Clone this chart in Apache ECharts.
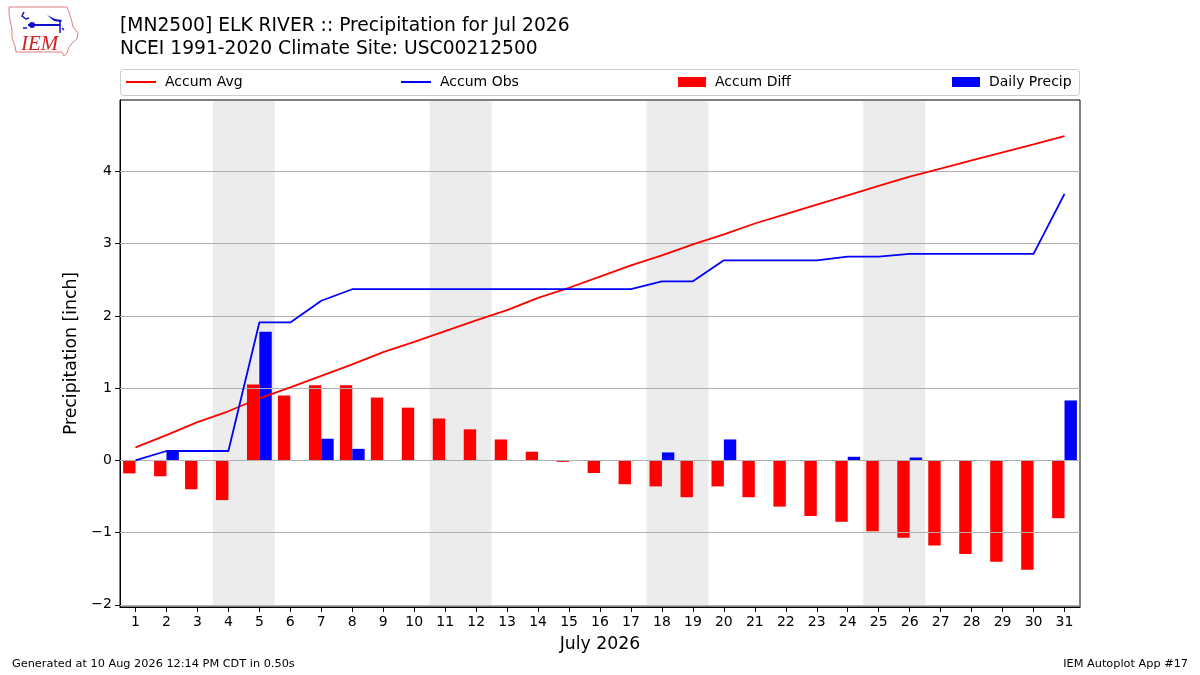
<!DOCTYPE html>
<html>
<head>
<meta charset="utf-8">
<script src="https://cdn.jsdelivr.net/npm/echarts@6/dist/echarts.min.js"></script>
<style>html,body{margin:0;padding:0;background:#fff}#c{width:1200px;height:675px}</style>
</head>
<body>
<div id="c"></div>
<script>
const days = ['1','2','3','4','5','6','7','8','9','10','11','12','13','14','15','16','17','18','19','20','21','22','23','24','25','26','27','28','29','30','31'];
const accumAvg = [0.18,0.35,0.53,0.68,0.86,1.01,1.17,1.33,1.50,1.64,1.79,1.94,2.08,2.25,2.39,2.545,2.70,2.84,2.99,3.13,3.28,3.41,3.54,3.67,3.80,3.93,4.04,4.155,4.265,4.375,4.49];
const accumObs = [0,0.13,0.13,0.13,1.91,1.91,2.21,2.37,2.37,2.37,2.37,2.37,2.37,2.37,2.37,2.37,2.37,2.48,2.48,2.77,2.77,2.77,2.77,2.82,2.82,2.86,2.86,2.86,2.86,2.86,3.69];
const accumDiff = [-0.18,-0.22,-0.40,-0.55,1.05,0.90,1.04,1.04,0.87,0.73,0.58,0.43,0.29,0.12,-0.02,-0.175,-0.33,-0.36,-0.51,-0.36,-0.51,-0.64,-0.77,-0.85,-0.98,-1.07,-1.18,-1.295,-1.405,-1.515,-0.80];
const dailyPrecip = [0,0.13,0,0,1.78,0,0.30,0.16,0,0,0,0,0,0,0,0,0,0.11,0,0.29,0,0,0,0.05,0,0.04,0,0,0,0,0.83];
const yTicks = [-2,-1,0,1,2,3,4];
const weekends = [[4,5],[11,12],[18,19],[25,26]];

const FONT = 'DejaVu Sans';
const chart = echarts.init(document.getElementById('c'), null, {renderer:'canvas'});
const minus = v => String(v).replace('-', '\u2212');
const legText = {fontFamily:FONT, fontSize:14, color:'#000', padding:[0,0,0,4]};

const option = {
  backgroundColor: '#ffffff',
  animation: false,
  textStyle: {fontFamily: FONT, color: '#000'},
  title: {
    text: '[MN2500] ELK RIVER :: Precipitation for Jul 2026\nNCEI 1991-2020 Climate Site: USC00212500',
    left: 115, top: 12, padding: [3,5,3,5],
    textStyle: {fontFamily: FONT, fontSize: 18.7, fontWeight: 'normal', color: '#000', lineHeight: 23}
  },
  legend: [
    {data:[{name:'Accum Avg', icon:'rect'}], left:126, top:75, padding:0, itemWidth:30, itemHeight:2, textStyle:legText, selectedMode:false},
    {data:[{name:'Accum Obs', icon:'rect'}], left:401, top:75, padding:0, itemWidth:30, itemHeight:2, textStyle:legText, selectedMode:false},
    {data:[{name:'Accum Diff', icon:'rect'}], left:678, top:75, padding:0, itemWidth:28, itemHeight:10, textStyle:legText, selectedMode:false},
    {data:[{name:'Daily Precip', icon:'rect'}], left:952, top:75, padding:0, itemWidth:28, itemHeight:10, textStyle:legText, selectedMode:false}
  ],
  grid: {left:120, right:120, top:100, bottom:68, show:true, borderColor:'#000', borderWidth:1, backgroundColor:'transparent'},
  xAxis: [
    {
      type:'category', data: days, boundaryGap:true,
      name:'July 2026', nameLocation:'middle', nameGap:29,
      nameTextStyle:{fontFamily:FONT, fontSize:17.3, color:'#000'},
      axisLine:{show:true, onZero:false, lineStyle:{color:'#000', width:1}},
      axisTick:{show:true, alignWithLabel:true, interval:0, length:5, lineStyle:{color:'#000'}},
      axisLabel:{fontFamily:FONT, fontSize:14, color:'#000', margin:8, interval:0},
      splitLine:{show:false}
    },
    {type:'value', min:0.5, max:31.5, show:false, axisLine:{onZero:false}}
  ],
  yAxis: {
    type:'value', min:-2.03, max:4.99,
    name:'Precipitation [inch]', nameLocation:'middle', nameGap:37,
    nameTextStyle:{fontFamily:FONT, fontSize:17.3, color:'#000'},
    axisLine:{show:true, onZero:false, lineStyle:{color:'#000'}},
    axisTick:{show:true, length:5, lineStyle:{color:'#000'}, customValues: yTicks},
    axisLabel:{fontFamily:FONT, fontSize:14, color:'#000', margin:8, customValues: yTicks, formatter: v => minus(v)},
    splitLine:{show:false}
  },
  series: [
    {
      name:'bg', type:'line', xAxisIndex:1, yAxisIndex:0, data:[[1,0]], symbol:'none', lineStyle:{opacity:0}, silent:true, z:1,
      markArea:{silent:true, itemStyle:{color:'rgba(128,128,128,0.15)'},
        data: weekends.map(w => [{xAxis:w[0]-0.5},{xAxis:w[1]+0.5}])},
      markLine:{silent:true, symbol:['none','none'], label:{show:false},
        lineStyle:{color:'#b0b0b0', width:1, type:'solid'},
        data: yTicks.map(v => ({yAxis:v}))}
    },
    {name:'Accum Diff', type:'bar', data:accumDiff, barWidth:'40%', barGap:'0%', itemStyle:{color:'#ff0000'}, z:3},
    {name:'Daily Precip', type:'bar', data:dailyPrecip, barWidth:'40%', barGap:'0%', itemStyle:{color:'#0000ff'}, z:3},
    {name:'Accum Avg', type:'line', data:accumAvg, symbol:'none', lineStyle:{color:'#ff0000', width:1.8}, itemStyle:{color:'#ff0000'}, z:5},
    {name:'Accum Obs', type:'line', data:accumObs, symbol:'none', lineStyle:{color:'#0000ff', width:1.8}, itemStyle:{color:'#0000ff'}, z:5}
  ],
  graphic: [
    {type:'rect', z:-1, shape:{x:120.5, y:69.5, width:959, height:26, r:3}, style:{fill:'#fff', stroke:'#cccccc', lineWidth:1}},
    {type:'text', left:12, top:659, style:{text:'Generated at 10 Aug 2026 12:14 PM CDT in 0.50s', font:'11.3px "DejaVu Sans"', fill:'#000'}},
    {type:'text', right:12, top:659, style:{text:'IEM Autoplot App #17', font:'11.3px "DejaVu Sans"', fill:'#000'}},
    {type:'polygon', shape:{points:[[9,7],[67,7],[69,12],[72,22],[73,27],[78,33],[77,39],[72,43],[69,47],[67,53],[64,56],[62,52],[16,52],[15,46],[12,38],[12,30],[10,20],[9,13]]}, style:{fill:'#fff', stroke:'#e08080', lineWidth:1}},
    {type:'polyline', shape:{points:[[28,25],[60,25]]}, style:{stroke:'#1010c8', lineWidth:2}},
    {type:'polygon', shape:{points:[[47,15],[55,19],[62,20],[61,22],[54,21]]}, style:{fill:'#1010c8'}},
    {type:'polyline', shape:{points:[[60,20],[60,33]]}, style:{stroke:'#1010c8', lineWidth:1.5}},
    {type:'polyline', shape:{points:[[62,28],[64,30]]}, style:{stroke:'#1010c8', lineWidth:1.2}},
    {type:'polyline', shape:{points:[[24,12],[22,16],[26,19],[29,18]]}, style:{stroke:'#1010c8', lineWidth:1.5}},
    {type:'circle', shape:{cx:32, cy:25, r:3}, style:{fill:'#1010c8'}},
    {type:'circle', shape:{cx:24, cy:28, r:1}, style:{fill:'#1010c8'}},
    {type:'circle', shape:{cx:26, cy:28, r:1}, style:{fill:'#1010c8'}},
    {type:'text', left:21, top:34, style:{text:'IEM', font:'italic 21px "Liberation Serif"', fill:'#d02020'}}
  ]
};
chart.setOption(option);
</script>
</body>
</html>
